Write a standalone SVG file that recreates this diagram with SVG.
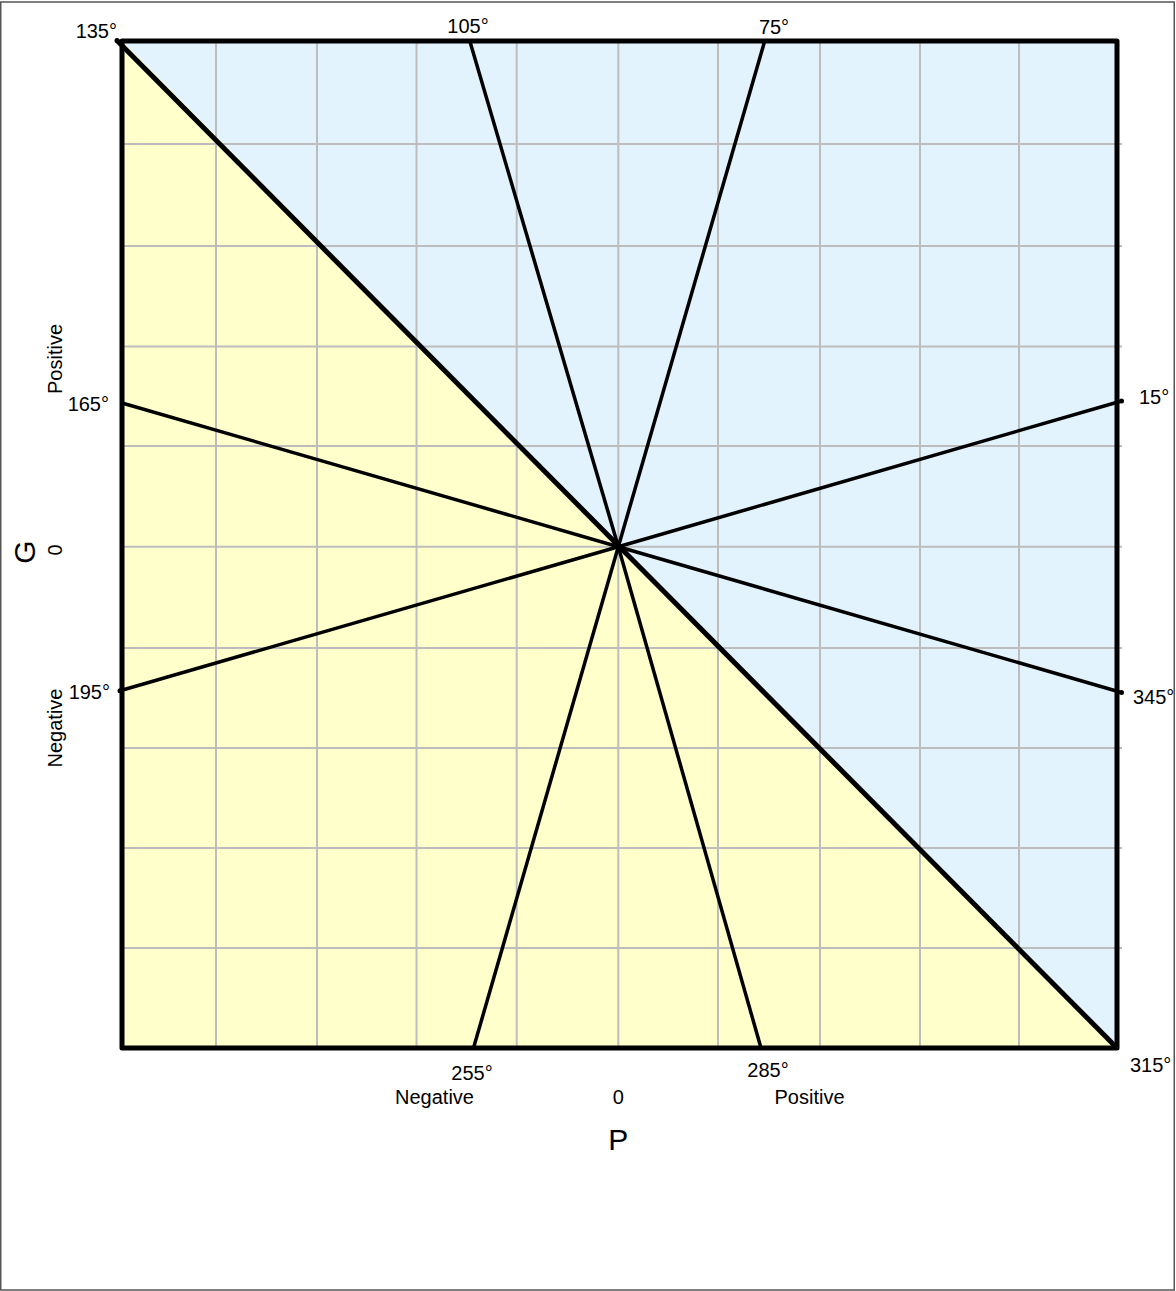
<svg xmlns="http://www.w3.org/2000/svg" width="1176" height="1291" viewBox="0 0 1176 1291">
<style>
text{font-family:"Liberation Sans",Arial,sans-serif;fill:#000;font-size:20px}
.grid{stroke:#bdbdbd;stroke-width:2;fill:none}
.ray{stroke:#000;stroke-width:3.5;fill:none}
.frame{stroke:#000;stroke-width:5;fill:none;stroke-linejoin:round}
.dot{fill:#000}
.big{font-size:30px}
</style>
<rect x="0" y="0" width="1176" height="1291" fill="#fff"/>
<rect x="0.75" y="2" width="1173.5" height="1288" fill="none" stroke="#555" stroke-width="1.5"/>
<g id="regions">
<polygon points="122,41 1117,41 1117,1048" fill="#E2F3FD"/>
<polygon points="122,41 1117,1048 122,1048" fill="#FFFFCC"/>
</g>
<g id="grid" class="grid">
<line x1="216" y1="41" x2="216" y2="1048"/>
<line x1="317" y1="41" x2="317" y2="1048"/>
<line x1="416.5" y1="41" x2="416.5" y2="1048"/>
<line x1="516.7" y1="41" x2="516.7" y2="1048"/>
<line x1="618.3" y1="41" x2="618.3" y2="1048"/>
<line x1="718" y1="41" x2="718" y2="1048"/>
<line x1="820" y1="41" x2="820" y2="1048"/>
<line x1="920" y1="41" x2="920" y2="1048"/>
<line x1="1019" y1="41" x2="1019" y2="1048"/>
<line x1="122" y1="144" x2="1122" y2="144"/>
<line x1="122" y1="246" x2="1122" y2="246"/>
<line x1="122" y1="346.5" x2="1122" y2="346.5"/>
<line x1="122" y1="446" x2="1122" y2="446"/>
<line x1="122" y1="546.7" x2="1122" y2="546.7"/>
<line x1="122" y1="648" x2="1122" y2="648"/>
<line x1="122" y1="748" x2="1122" y2="748"/>
<line x1="122" y1="848" x2="1122" y2="848"/>
<line x1="122" y1="948" x2="1122" y2="948"/>
</g>
<g id="connectors">
<line class="ray" x1="117" y1="40.5" x2="1117" y2="1048" style="stroke-width:5"/>
<line class="ray" x1="469.5" y1="40" x2="618.3" y2="546.7"/>
<line class="ray" x1="765" y1="40" x2="618.3" y2="546.7"/>
<line class="ray" x1="1121.5" y1="401" x2="618.3" y2="546.7"/>
<line class="ray" x1="1121.5" y1="692.5" x2="618.3" y2="546.7"/>
<line class="ray" x1="761" y1="1048" x2="618.3" y2="546.7"/>
<line class="ray" x1="473.5" y1="1048" x2="618.3" y2="546.7"/>
<line class="ray" x1="120" y1="690.7" x2="618.3" y2="546.7"/>
<line class="ray" x1="122" y1="403" x2="618.3" y2="546.7"/>
<circle class="dot" cx="117" cy="40.5" r="2.5"/>
<circle class="dot" cx="1121.5" cy="401" r="2.5"/>
<circle class="dot" cx="1121.5" cy="692.5" r="2.5"/>
<circle class="dot" cx="120" cy="690.7" r="2.5"/>
</g>
<g id="frame">
<rect class="frame" x="122" y="41" width="995" height="1007"/>
</g>
<g id="labels">
<text x="117" y="38" text-anchor="end">135°</text>
<text x="468" y="33" text-anchor="middle">105°</text>
<text x="774" y="34" text-anchor="middle">75°</text>
<text x="1139" y="404">15°</text>
<text x="1133" y="704">345°</text>
<text x="1130" y="1072">315°</text>
<text x="472" y="1080" text-anchor="middle">255°</text>
<text x="768" y="1077" text-anchor="middle">285°</text>
<text x="434.5" y="1104" text-anchor="middle">Negative</text>
<text x="618.3" y="1104" text-anchor="middle">0</text>
<text x="809.5" y="1104" text-anchor="middle">Positive</text>
<text class="big" x="618.3" y="1150" text-anchor="middle">P</text>
<text x="109" y="411" text-anchor="end">165°</text>
<text x="110" y="699" text-anchor="end">195°</text>
<text transform="translate(62,359) rotate(-90)" text-anchor="middle">Positive</text>
<text transform="translate(62,728) rotate(-90)" text-anchor="middle">Negative</text>
<text transform="translate(62,550) rotate(-90)" text-anchor="middle">0</text>
<text class="big" transform="translate(35,552) rotate(-90)" text-anchor="middle">G</text>
</g>
</svg>
